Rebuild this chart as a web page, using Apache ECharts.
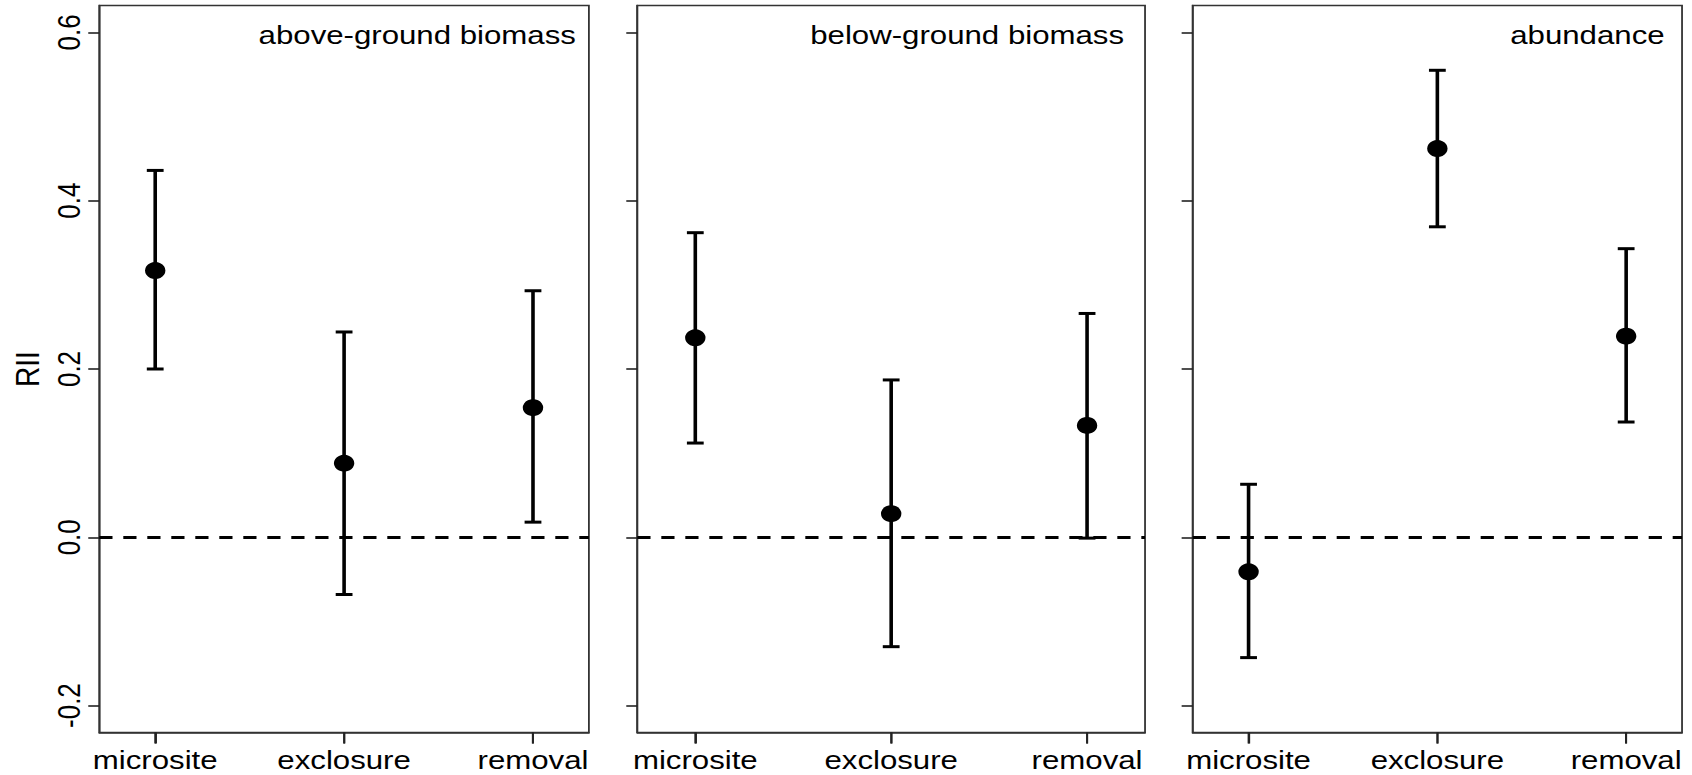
<!DOCTYPE html>
<html>
<head>
<meta charset="utf-8">
<title>RII by treatment</title>
<script src="https://cdn.jsdelivr.net/npm/echarts@6/dist/echarts.min.js"></script>
<style>
  html, body { margin: 0; padding: 0; background: #fff; overflow: hidden; }
  /* the plot is laid out on a narrower canvas and widened horizontally */
  #chart { width: 1410px; height: 775px; transform: scaleX(1.2); transform-origin: 0 0; }
</style>
</head>
<body>
<div id="chart"></div>
<script>
// treatments along the x axis
const categories = ['microsite', 'exclosure', 'removal'];
// panel headings
const panelTitles = ['above-ground biomass', 'below-ground biomass', 'abundance'];
// y axis tick values
const yTicks = [-0.2, 0.0, 0.2, 0.4, 0.6];

// mean RII and confidence limits, one array per response
const aboveMean = [0.317, 0.088, 0.154];
const aboveLow  = [0.200, -0.068, 0.018];
const aboveHigh = [0.436, 0.244, 0.293];

const belowMean = [0.237, 0.028, 0.133];
const belowLow  = [0.112, -0.130, -0.001];
const belowHigh = [0.362, 0.187, 0.266];

const abundMean = [-0.041, 0.462, 0.239];
const abundLow  = [-0.143, 0.369, 0.137];
const abundHigh = [0.063, 0.555, 0.343];

const panels = [
  { mean: aboveMean, low: aboveLow, high: aboveHigh },
  { mean: belowMean, low: belowLow, high: belowHigh },
  { mean: abundMean, low: abundLow, high: abundHigh }
];

const FONT = "'Liberation Sans', Arial, sans-serif";
const INK = '#000';
const FRAME = '#333';
const Y_MIN = -0.232;
const Y_MAX = 0.632;

// plot-region boxes (layout units of the unscaled canvas)
const gridBoxes = [
  { left: 82.75, width: 408.0 },
  { left: 531.1, width: 423.1 },
  { left: 993.9, width: 407.8 }
];
const titleRight = [930, 473.2, 22.8];

const grids = gridBoxes.map(b => ({
  left: b.left, width: b.width, top: 5.5, height: 727,
  show: true, borderColor: FRAME, borderWidth: 1.5, backgroundColor: 'transparent'
}));

const xAxes = panels.map((p, i) => ({
  type: 'value', gridIndex: i, min: 0.704, max: 3.296, position: 'bottom',
  axisLine: { show: true, onZero: false, lineStyle: { color: FRAME, width: 1.5 } },
  splitLine: { show: false },
  axisTick: {
    show: true, inside: false, length: 11,
    lineStyle: { color: '#222', width: 1.6 }, customValues: [1, 2, 3]
  },
  axisLabel: {
    show: true, margin: 14, fontSize: 26, fontFamily: FONT, color: INK,
    customValues: [1, 2, 3],
    formatter: v => categories[Math.round(v) - 1]
  }
}));

const yAxes = panels.map((p, i) => ({
  type: 'value', gridIndex: i, min: Y_MIN, max: Y_MAX, position: 'left',
  name: i === 0 ? 'RII' : '',
  nameLocation: 'middle', nameGap: 46,
  nameTextStyle: { fontSize: 28, fontFamily: FONT, color: INK },
  axisLine: { show: true, onZero: false, lineStyle: { color: FRAME, width: 1.5 } },
  splitLine: { show: false },
  axisTick: { show: true, length: 9.2, lineStyle: { color: '#222', width: 1.6 }, customValues: yTicks },
  axisLabel: {
    show: i === 0, rotate: 90, margin: 12, fontSize: 26, fontFamily: FONT, color: INK,
    customValues: yTicks,
    formatter: v => v.toFixed(1)
  }
}));

// vertical interval with flat caps, placed through the axis scales
function renderInterval(params, api) {
  const x = api.value(0);
  const pLo = api.coord([x, api.value(1)]);
  const pHi = api.coord([x, api.value(2)]);
  const hw = 7;
  const st = { stroke: INK, lineWidth: 3, lineCap: 'butt' };
  return {
    type: 'group',
    children: [
      { type: 'line', shape: { x1: pLo[0], y1: pLo[1], x2: pHi[0], y2: pHi[1] }, style: st },
      { type: 'line', shape: { x1: pLo[0] - hw, y1: pLo[1], x2: pLo[0] + hw, y2: pLo[1] }, style: st },
      { type: 'line', shape: { x1: pHi[0] - hw, y1: pHi[1], x2: pHi[0] + hw, y2: pHi[1] }, style: st }
    ]
  };
}

// outward tick below the frame at each treatment position
function renderBottomTick(params, api) {
  const p = api.coord([api.value(0), Y_MIN]);
  return {
    type: 'line',
    shape: { x1: p[0], y1: p[1], x2: p[0], y2: p[1] + 11 },
    style: { stroke: '#222', lineWidth: 1.6 }
  };
}

const series = [];
panels.forEach((p, i) => {
  series.push({
    type: 'custom', xAxisIndex: i, yAxisIndex: i,
    renderItem: renderInterval,
    data: categories.map((c, k) => [k + 1, p.low[k], p.high[k]]),
    silent: true, z: 2
  });
  series.push({
    type: 'custom', xAxisIndex: i, yAxisIndex: i,
    renderItem: renderBottomTick, clip: false,
    data: categories.map((c, k) => [k + 1]),
    silent: true, z: 5
  });
  series.push({
    type: 'scatter', xAxisIndex: i, yAxisIndex: i,
    symbol: 'circle', symbolSize: 17,
    itemStyle: { color: INK, opacity: 1 },
    data: categories.map((c, k) => [k + 1, p.mean[k]]),
    silent: true, z: 3,
    markLine: {
      silent: true, symbol: 'none', animation: false,
      label: { show: false },
      lineStyle: { color: INK, width: 3, type: [11, 9] },
      data: [{ yAxis: 0 }]
    }
  });
});

const titles = panelTitles.map((t, i) => ({
  text: t, right: titleRight[i], top: 22, padding: 0,
  textStyle: { fontSize: 26, fontWeight: 'normal', fontFamily: FONT, color: INK }
}));

const chart = echarts.init(document.getElementById('chart'), null, { renderer: 'svg' });
chart.setOption({
  animation: false,
  backgroundColor: '#fff',
  title: titles,
  grid: grids,
  xAxis: xAxes,
  yAxis: yAxes,
  series: series
});
</script>
</body>
</html>
